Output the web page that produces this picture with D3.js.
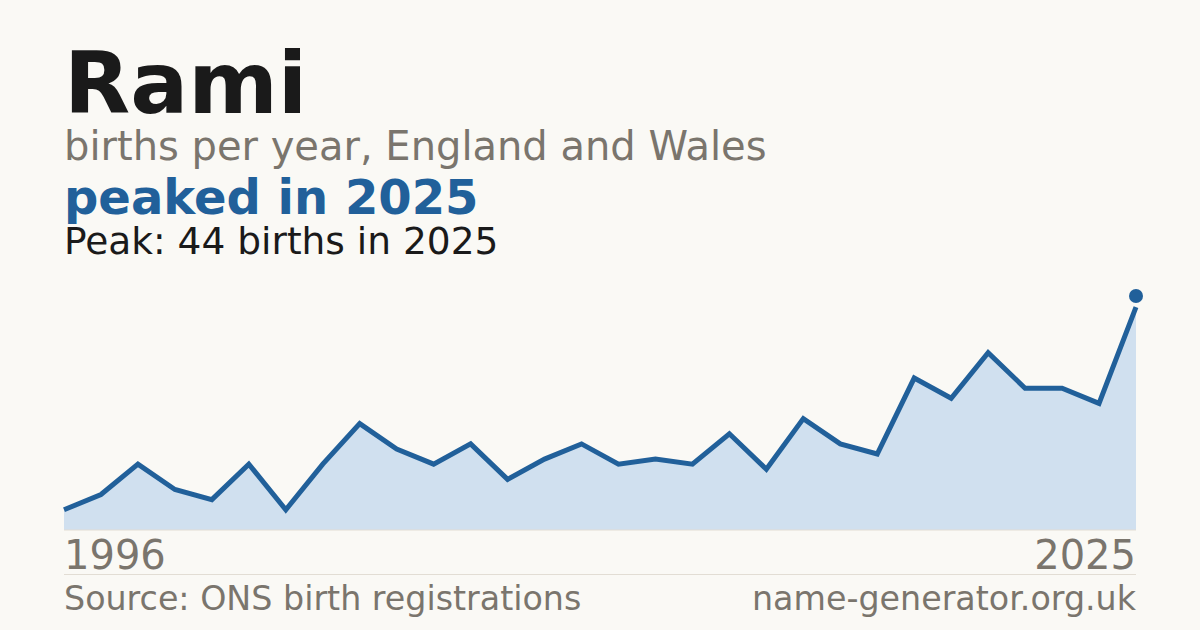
<!DOCTYPE html>
<html>
<head>
<meta charset="utf-8">
<script src="https://cdn.jsdelivr.net/npm/d3@7"></script>
<style>
  html, body { margin: 0; padding: 0; background: #faf9f5; }
  svg { display: block; font-family: "DejaVu Sans", sans-serif; }
</style>
</head>
<body>
<svg id="chart" width="1200" height="630"></svg>
<script>
// births per year for the name
var years = [1996, 1997, 1998, 1999, 2000, 2001, 2002, 2003, 2004, 2005,
             2006, 2007, 2008, 2009, 2010, 2011, 2012, 2013, 2014, 2015,
             2016, 2017, 2018, 2019, 2020, 2021, 2022, 2023, 2024, 2025];
var births = [4, 7, 13, 8, 6, 13, 4, 13, 21, 16,
              13, 17, 10, 14, 17, 13, 14, 13, 19, 12,
              22, 17, 15, 30, 26, 35, 28, 28, 25, 44];
var axisLabels = ["1996", "2025"];

var name = "Rami";
var subtitle = "births per year, England and Wales";
var headline = "peaked in 2025";
var source = "Source: ONS birth registrations";
var site = "name-generator.org.uk";

var blue = "#21609a";
var grey = "#7a756d";
var ink = "#1a1a1a";

var svg = d3.select("#chart");

var data = years.map(function(y, i) { return { year: y, births: births[i] }; });
var peak = d3.max(data, function(d) { return d.births; });
var peakRow = data.find(function(d) { return d.births == peak; });

var x = d3.scaleLinear()
    .domain(d3.extent(years))
    .range([64, 1136]);
var y = d3.scaleLinear()
    .domain([0, peak * 1.05])
    .range([530, 296]);

// header text
svg.append("text").attr("x", 64).attr("y", 113)
    .attr("font-size", 86).attr("font-weight", "bold").attr("fill", ink)
    .text(name);
svg.append("text").attr("x", 64).attr("y", 160)
    .attr("font-size", 40).attr("fill", grey)
    .text(subtitle);
svg.append("text").attr("x", 64).attr("y", 214)
    .attr("font-size", 48).attr("font-weight", "bold").attr("fill", blue)
    .text(headline);
svg.append("text").attr("x", 64).attr("y", 254)
    .attr("font-size", 37.5).attr("fill", ink)
    .text("Peak: " + peak + " births in " + peakRow.year);

// area + line
var area = d3.area()
    .x(function(d) { return x(d.year); })
    .y0(y(0))
    .y1(function(d) { return y(d.births); });
var line = d3.line()
    .x(function(d) { return x(d.year); })
    .y(function(d) { return y(d.births); });

svg.append("path").datum(data)
    .attr("d", area)
    .attr("fill", "#d0e0ef");

svg.append("line")
    .attr("x1", x.range()[0]).attr("x2", x.range()[1])
    .attr("y1", y(0)).attr("y2", y(0))
    .attr("stroke", "#e2ddd4").attr("stroke-width", 1);

svg.append("path").datum(data)
    .attr("d", line)
    .attr("fill", "none")
    .attr("stroke", blue)
    .attr("stroke-width", 5)
    .attr("stroke-linejoin", "miter");

svg.append("circle")
    .attr("cx", x(peakRow.year))
    .attr("cy", y.range()[1])
    .attr("r", 7)
    .attr("fill", blue);

// axis end labels
svg.append("text").attr("x", x(years[0])).attr("y", 569)
    .attr("font-size", 40).attr("fill", grey)
    .text(axisLabels[0]);
svg.append("text").attr("x", x(years[years.length - 1])).attr("y", 569)
    .attr("font-size", 40).attr("fill", grey).attr("text-anchor", "end")
    .text(axisLabels[1]);

// footer
svg.append("line")
    .attr("x1", 64).attr("x2", 1136)
    .attr("y1", 574.5).attr("y2", 574.5)
    .attr("stroke", "#e2ddd4").attr("stroke-width", 1);
svg.append("text").attr("x", 64).attr("y", 610)
    .attr("font-size", 33.3).attr("fill", grey)
    .text(source);
svg.append("text").attr("x", 1136).attr("y", 610)
    .attr("font-size", 33.3).attr("fill", grey).attr("text-anchor", "end")
    .text(site);
</script>
</body>
</html>
